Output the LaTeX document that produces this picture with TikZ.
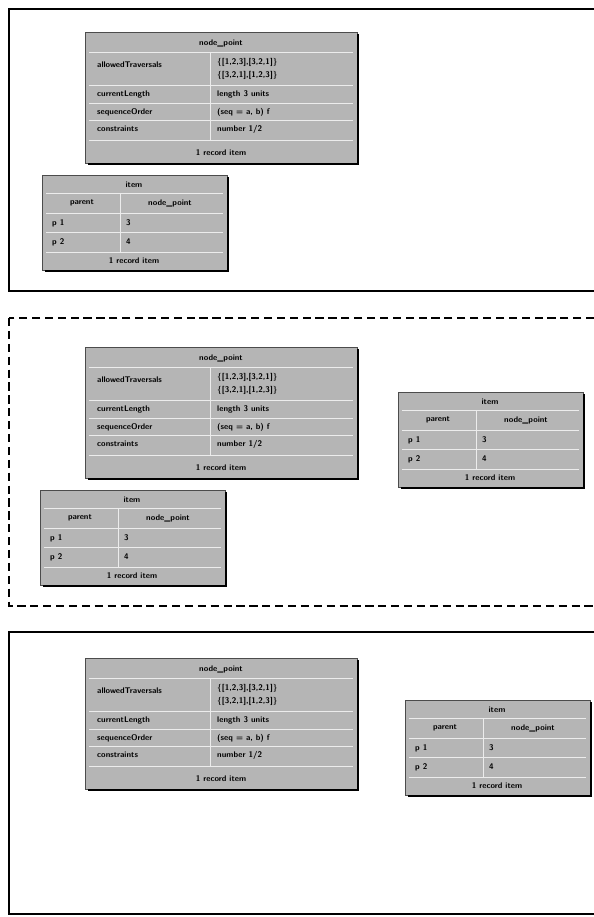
\documentclass[tikz,border=0pt]{standalone}
\usepackage{tikz}
\usetikzlibrary{positioning,calc}

\begin{document}
\begin{tikzpicture}[
  x=0.03cm, y=-0.03cm,
  panel/.style={draw=black, line width=1.4pt},
  tab/.style={draw=gray!60!black, fill=gray!58, line width=0.5pt},
  shade/.style={draw=black, line width=1.3pt},
  sep/.style={draw=gray!15, line width=0.8pt},
  cell/.style={font=\sffamily\bfseries\scriptsize, inner sep=0pt, text=black},
  pics/bigtab/.style={code={
    \draw[tab] (0,0) rectangle (272,131);
    \draw[shade] (3,132) -- (273,132) -- (273,2);
    \draw[sep] (4,20) -- (268,20);
    \draw[sep] (4,53) -- (268,53);
    \draw[sep] (4,71) -- (268,71);
    \draw[sep] (4,88) -- (268,88);
    \draw[sep] (4,108) -- (268,108);
    \draw[sep] (125,20) -- (125,108);
    \node[cell] (-title) at (136,11) {node\_point};
    \node[cell, anchor=west] (-k1) at (12,33) {allowedTraversals};
    \node[cell, anchor=west] (-v1a) at (132,30) {\{[1,2,3],[3,2,1]\}};
    \node[cell, anchor=west] (-v1b) at (132,43) {\{[3,2,1],[1,2,3]\}};
    \node[cell, anchor=west] (-k2) at (12,62) {currentLength};
    \node[cell, anchor=west] (-v2) at (132,62) {length 3 units};
    \node[cell, anchor=west] (-k3) at (12,80) {sequenceOrder};
    \node[cell, anchor=west] (-v3) at (132,80) {(seq = a, b) f};
    \node[cell, anchor=west] (-k4) at (12,97) {constraints};
    \node[cell, anchor=west] (-v4) at (132,97) {number 1/2};
    \node[cell] (-foot) at (136,121) {1 record item};
  }},
  pics/smalltab/.style={code={
    \draw[tab] (0,0) rectangle (185,95);
    \draw[shade] (3,96) -- (186,96) -- (186,2);
    \draw[sep] (4,18) -- (181,18);
    \draw[sep] (4,38) -- (181,38);
    \draw[sep] (4,57) -- (181,57);
    \draw[sep] (4,77) -- (181,77);
    \draw[sep] (78,18) -- (78,77);
    \node[cell] (-title) at (92,10) {item};
    \node[cell] (-h1) at (40,28) {parent};
    \node[cell] (-h2) at (128,28) {node\_point};
    \node[cell, anchor=west] (-p1) at (10,48) {p 1};
    \node[cell, anchor=west] (-p1v) at (84,48) {3};
    \node[cell, anchor=west] (-p2) at (10,67) {p 2};
    \node[cell, anchor=west] (-p2v) at (84,67) {4};
    \node[cell] (-foot) at (92,86) {1 record item};
  }}
]
  \useasboundingbox (0,0) rectangle (594,917);

  % first state
  \draw[panel] (9,9) rectangle (600,291);
  \pic (firstbig) at (85,32) {bigtab};
  \pic (firstitem) at (42,175) {smalltab};

  % intermediate state
  \draw[panel, dashed, dash pattern=on 7pt off 4pt] (9,318) rectangle (600,606);
  \pic (midbig) at (85,347) {bigtab};
  \pic (miditem) at (40,490) {smalltab};
  \pic (midcopy) at (398,392) {smalltab};

  % final state
  \draw[panel] (9,632) rectangle (600,914);
  \pic (lastbig) at (85,658) {bigtab};
  \pic (lastitem) at (405,700) {smalltab};
\end{tikzpicture}
\end{document}
